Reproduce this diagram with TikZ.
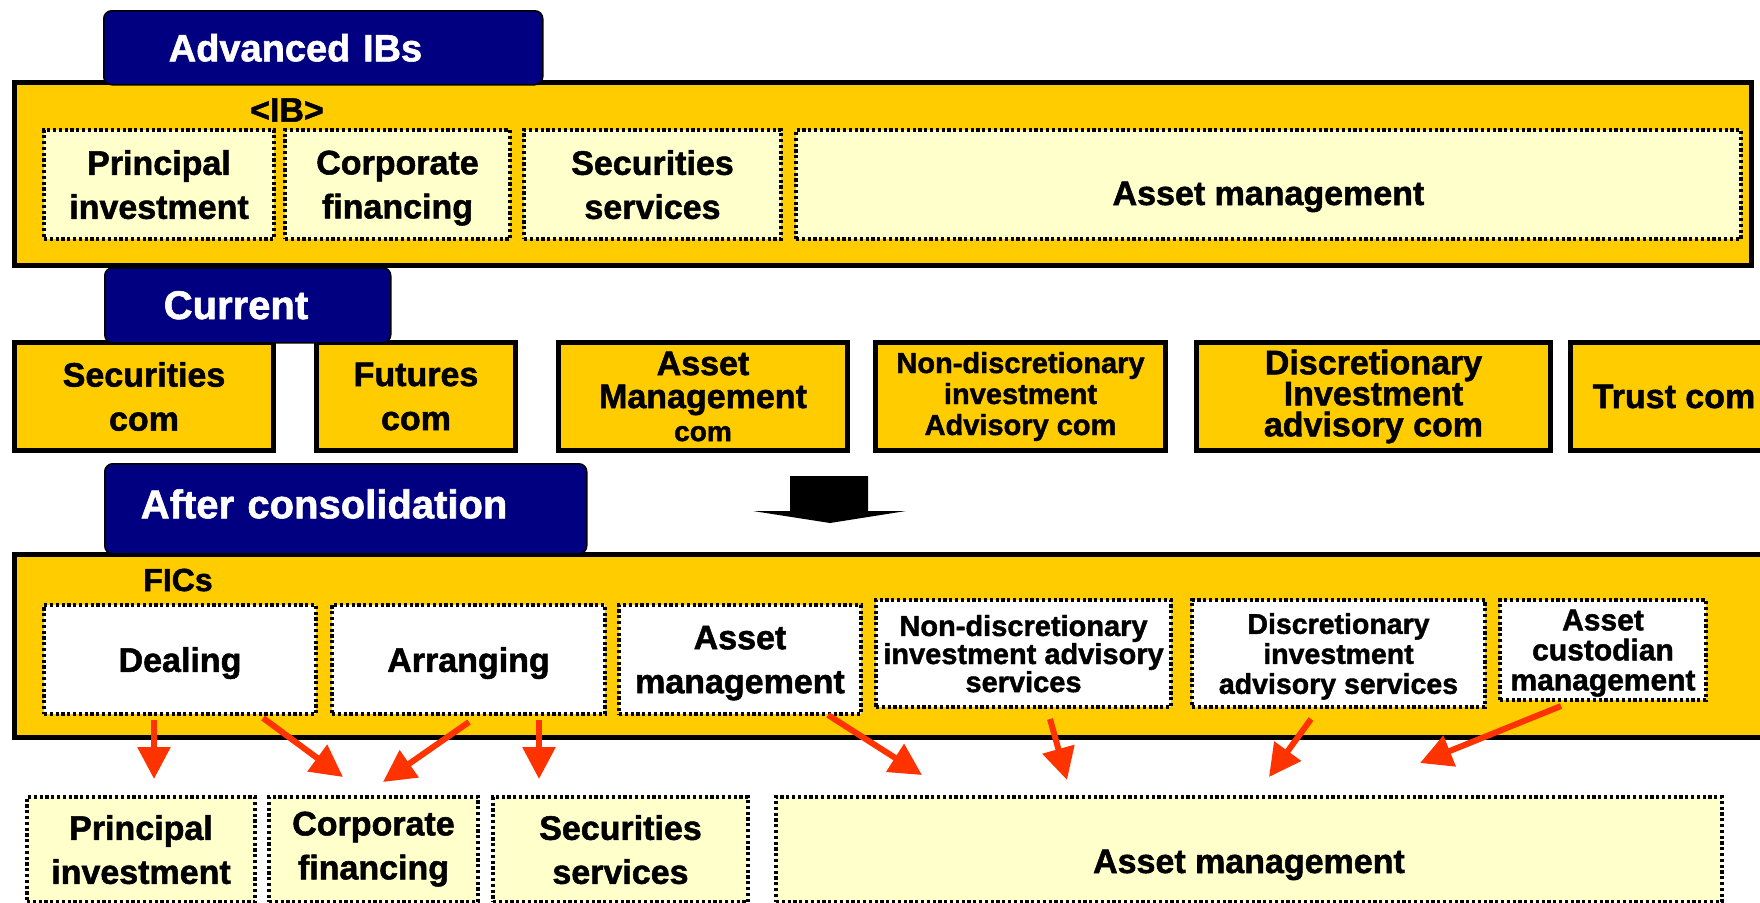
\documentclass[tikz,border=0pt]{standalone}
\usepackage{fontspec}
\setmainfont{Liberation Sans}[BoldFeatures={FakeBold=1.5}]
\usetikzlibrary{arrows.meta}
\definecolor{gold}{HTML}{FFCC00}
\definecolor{cream}{HTML}{FFFFCC}
\definecolor{navy}{HTML}{000080}
\definecolor{arrowred}{HTML}{FF3300}
\newcommand{\tabf}   {\bfseries\fontsize{40}{48}\selectfont}
\newcommand{\boxf}   {\bfseries\fontsize{34}{44}\selectfont}
\newcommand{\thinf}  {\bfseries\fontsize{29}{31}\selectfont}

\begin{document}
\begin{tikzpicture}[x=1pt,y=-1pt,
    outer/.style={draw=black,fill=gold,line width=5pt,inner sep=0pt,anchor=north west},
    firm/.style={outer,align=center,font=\boxf},
    tabbox/.style={draw=black,fill=navy,text=white,rounded corners=8pt,line width=1.5pt,
                   anchor=north west,align=left,inner sep=0pt,font=\tabf},
    dotbox/.style={draw=black,line width=4pt,dash pattern=on 3.2pt off 2.6pt,text depth=0pt,
                   align=center,inner sep=0pt,anchor=north west,font=\boxf},
    ib/.style={dotbox,fill=cream},
    fic/.style={dotbox,fill=white},
    low/.style={text height=#1,text depth=0pt},
    redarrow/.style={draw=arrowred,line width=6pt,-{Triangle[length=32pt,width=32pt]}}]
  \useasboundingbox (0,0) rectangle (1760,902);
  \clip (0,0) rectangle (1760,902);

  \node[outer,minimum width=1737pt,minimum height=183pt] (ibbox) at (12,80) {};
  \node[ib,minimum width=230pt,minimum height=109pt] (pi1) at (42,128)  {Principal\\investment};
  \node[ib,minimum width=225pt,minimum height=109pt] (cf1) at (283,128) {Corporate\\financing};
  \node[ib,minimum width=257pt,minimum height=109pt] (ss1) at (522,128) {Securities\\services};
  \node[ib,minimum width=945pt,minimum height=109pt,low=41pt] (am1) at (794,128) {Asset management};
  \node[font=\boxf] (ibl) at (287,110) {<IB>};

  \node[firm,minimum width=259pt,minimum height=108pt] (sec)   at (12,340)   {Securities\\com};
  \node[firm,minimum width=199pt,minimum height=108pt] (fut)   at (314,340)  {Futures\\com};
  \node[firm,minimum width=289pt,minimum height=108pt,font=\bfseries\fontsize{34}{33}\selectfont]
     (amc) at (556,340) {Asset\\Management\\{\fontsize{28}{31}\selectfont com}};
  \node[firm,minimum width=290pt,minimum height=108pt,font=\thinf]
     (ndc) at (873,340) {Non-discretionary\\investment\\Advisory com};
  \node[firm,minimum width=354pt,minimum height=108pt,font=\bfseries\fontsize{34}{31}\selectfont]
     (dc) at (1194,340) {Discretionary\\Investment\\advisory com};
  \node[firm,minimum width=207pt,minimum height=108pt] (trust) at (1568,340) {Trust com};

  \node[outer,minimum width=1763pt,minimum height=183pt] (ficbox) at (12,552) {};
  \node[fic,minimum width=272pt,minimum height=109pt] (deal) at (42,603)  {Dealing};
  \node[fic,minimum width=273pt,minimum height=109pt] (arr)  at (330,603) {Arranging};
  \node[fic,minimum width=242pt,minimum height=109pt] (am2)  at (617,603) {Asset\\management};
  \node[fic,minimum width=295pt,minimum height=107pt,font=\bfseries\fontsize{29}{26}\selectfont]
     (ndis) at (874,598) {Non-discretionary\\investment advisory\\services};
  \node[fic,minimum width=293pt,minimum height=107pt,font=\bfseries\fontsize{28.5}{30}\selectfont]
     (dis) at (1190,598) {Discretionary\\investment\\advisory services};
  \node[fic,minimum width=206pt,minimum height=100pt,font=\bfseries\fontsize{30}{30}\selectfont]
     (cust) at (1498,598) {Asset\\custodian\\management};
  \node[font=\bfseries\fontsize{32}{38}\selectfont] (ficl) at (178,580) {FICs};

  \node[ib,minimum width=228pt,minimum height=105pt] (pi2) at (25,795)  {Principal\\investment};
  \node[ib,minimum width=209pt,minimum height=105pt,text depth=8pt] (cf2) at (267,795) {Corporate\\financing};
  \node[ib,minimum width=255pt,minimum height=105pt] (ss2) at (491,795) {Securities\\services};
  \node[ib,minimum width=946pt,minimum height=105pt,low=47pt] (am3) at (774,795) {Asset management};

  \node[tabbox,minimum width=439pt,minimum height=74pt,text width=309pt,font=\bfseries\fontsize{38}{44}\selectfont]
     (adv) at (103,10) {Advanced IBs};
  \node[tabbox,minimum width=286pt,minimum height=75pt,text width=168pt] (cur) at (104,267) {Current};
  \node[tabbox,minimum width=482pt,minimum height=90pt,text width=410pt,low=19pt] (after) at (104,463) {After consolidation};

  \fill (790,476) -- (868,476) -- (868,511) -- (906,511) -- (830,523) -- (753,511) -- (790,511) -- cycle;

  \coordinate (s1) at (154,720);  \coordinate (e1) at (154,779);
  \coordinate (s2) at (263,718);  \coordinate (e2) at (343,777);
  \coordinate (s3) at (469,722);  \coordinate (e3) at (383,782);
  \coordinate (s4) at (539,720);  \coordinate (e4) at (539,779);
  \coordinate (s5) at (828,715);  \coordinate (e5) at (922,775);
  \coordinate (s6) at (1050,719); \coordinate (e6) at (1067,780);
  \coordinate (s7) at (1311,719); \coordinate (e7) at (1269,777);
  \coordinate (s8) at (1561,706); \coordinate (e8) at (1420,763);
  \draw[redarrow] (s1) -- (e1);
  \draw[redarrow] (s2) -- (e2);
  \draw[redarrow] (s3) -- (e3);
  \draw[redarrow] (s4) -- (e4);
  \draw[redarrow] (s5) -- (e5);
  \draw[redarrow] (s6) -- (e6);
  \draw[redarrow] (s7) -- (e7);
  \draw[redarrow] (s8) -- (e8);
\end{tikzpicture}
\end{document}
